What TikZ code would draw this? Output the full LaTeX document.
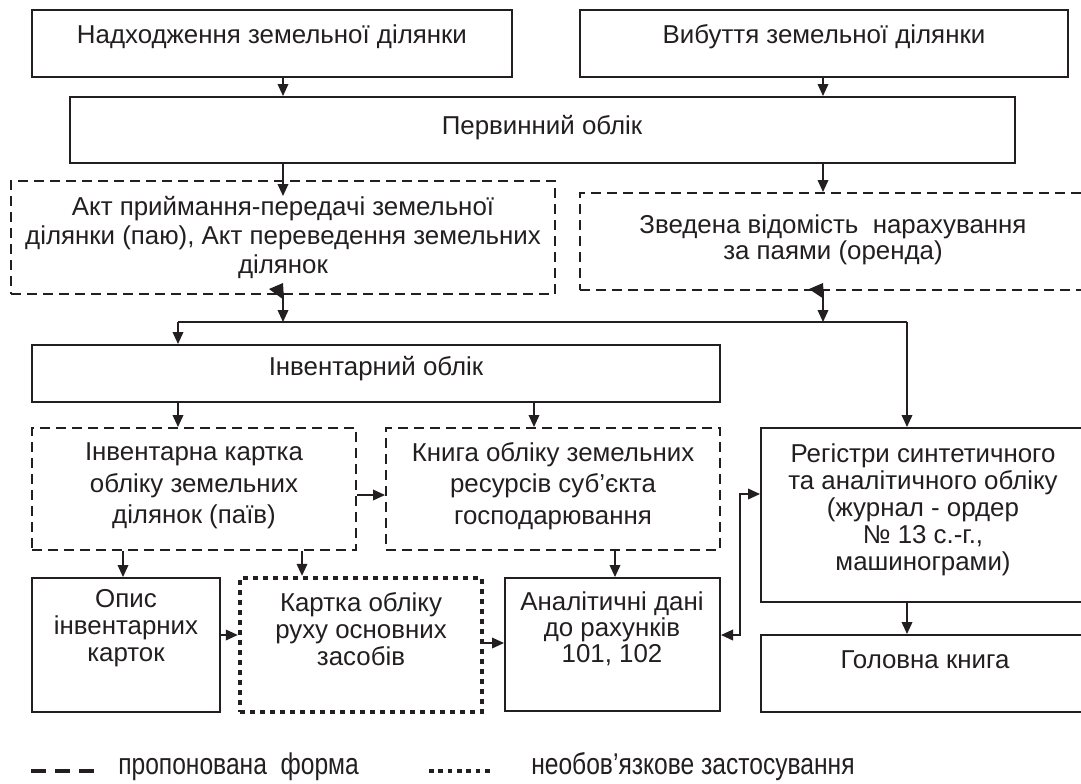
\documentclass[tikz,border=0pt]{standalone}
\usepackage{fontspec}
\setmainfont{Liberation Sans}
\newfontfamily\narrowfont{Liberation Sans}[FakeStretch=0.82]
\usetikzlibrary{arrows.meta,fit,calc}
\definecolor{ink}{HTML}{231F20}
\begin{document}
\begin{tikzpicture}[x=0.75pt,y=-0.75pt,
  solidbox/.style={draw=ink, line width=1.5pt, inner sep=0pt},
  dashbox/.style={draw=ink, line width=1.5pt, dash pattern=on 7.5pt off 4.5pt, inner sep=0pt},
  dotbox/.style={draw=ink, line width=3.3pt, dash pattern=on 3.5pt off 4pt, inner sep=0pt},
  txt/.style={text=ink, align=center, inner sep=0pt, font=\fontsize{19.4}{#1}\selectfont},
  legtxt/.style={text=ink, inner sep=0pt, font=\narrowfont\fontsize{22.5}{26}\selectfont},
  conn/.style={draw=ink, line width=1.1pt},
  arr/.style={conn, -{Triangle[length=9pt,width=8pt]}},
  dbl/.style={conn, {Triangle[length=9pt,width=8pt]}-{Triangle[length=9pt,width=8pt]}}]
\clip (0,0) rectangle (1081,783);
\fill[white] (0,0) rectangle (1081,783);
% boxes
\node[solidbox, fit={(32,10)(512,77)}] (nadh) {};
\node[txt=22pt] (nadhT) at (272,37) {Надходження земельної ділянки};
\node[solidbox, fit={(580,10)(1068,77)}] (vyb) {};
\node[txt=22pt] (vybT) at (824,37) {Вибуття земельної ділянки};
\node[solidbox, fit={(70,97)(1015,163)}] (perv) {};
\node[txt=22pt] (pervT) at (542,128) {Первинний облік};
\node[dashbox, fit={(11,181)(555,294)}] (akt) {};
\node[txt=21.75pt] (aktT) at (283,237) {Акт приймання-передачі земельної\\ділянки (паю), Акт переведення земельних\\ділянок};
\node[dashbox, fit={(580,193)(1086,290)}] (zved) {};
\node[txt=19.5pt] (zvedT) at (833,240) {Зведена відомість\ \ нарахування\\за паями (оренда)};
\node[solidbox, fit={(32,345)(720,402)}] (inv) {};
\node[txt=22pt] (invT) at (376,369) {Інвентарний облік};
\node[dashbox, fit={(32,428)(356,550)}] (invk) {};
\node[txt=23.6pt] (invkT) at (194,486) {Інвентарна картка\\обліку земельних\\ділянок (паїв)};
\node[dashbox, fit={(386,428)(720,550)}] (knyha) {};
\node[txt=23.6pt] (knyhaT) at (553,486) {Книга обліку земельних\\ресурсів суб’єкта\\господарювання};
\node[solidbox, fit={(761,428)(1086,602)}] (reg) {};
\node[txt=20.25pt] (regT) at (923,510) {Регістри синтетичного\\та аналітичного обліку\\(журнал - ордер\\№ 13 с.-г.,\\машинограми)};
\node[solidbox, fit={(32,578)(220,712)}] (opys) {};
\node[txt=20pt] (opysT) at (126,628) {Опис\\інвентарних\\карток};
\node[dotbox, fit={(240,578)(482,712)}] (kart) {};
\node[txt=20pt] (kartT) at (361,629) {Картка обліку\\руху основних\\засобів};
\node[solidbox, fit={(505,578)(720,711)}] (anal) {};
\node[txt=19.5pt] (analT) at (612,629) {Аналітичні дані\\до рахунків\\101, 102};
\node[solidbox, fit={(761,635)(1086,712)}] (gol) {};
\node[txt=22pt] (golT) at (925,660) {Головна книга};
% helper coordinates
\coordinate (cA) at (283,0);
\coordinate (cB) at (823,0);
\coordinate (busL) at (178,322);
\coordinate (busR) at (907,322);
\coordinate (cC) at (534,0);
\coordinate (cD) at (123,0);
\coordinate (cE) at (302,0);
\coordinate (cF) at (615,0);
\coordinate (rA) at (0,495);
\coordinate (rC) at (0,643);
\coordinate (kL) at (740,635);
\coordinate (kU) at (740,494);
% connectors
\draw[arr] (nadh.south -| cA) -- (perv.north -| cA);
\draw[arr] (vyb.south -| cB) -- (perv.north -| cB);
\draw[arr] (perv.south -| cA) -- ([yshift=-12pt]akt.north -| cA);
\draw[arr] (perv.south -| cB) -- (zved.north -| cB);
\draw[arr] (akt.south -| cA) -- (busL -| cA);
\draw[arr] (zved.south -| cB) -- (busL -| cB);
\fill[ink] ($(akt.south -| cA)+(-14,-6)$) -- ($(akt.south -| cA)+(0,-12)$) -- ($(akt.south -| cA)+(1,5)$) -- cycle;
\fill[ink] ($(zved.south -| cB)+(-14,-2)$) -- ($(zved.south -| cB)+(0,-8)$) -- ($(zved.south -| cB)+(1,8)$) -- cycle;
\draw[conn] (busL) -- (busR);
\draw[arr] (busL) -- (inv.north -| busL);
\draw[arr] (busR) -- (reg.north -| busR);
\draw[arr] (inv.south -| busL) -- (invk.north -| busL);
\draw[arr] (inv.south -| cC) -- (knyha.north -| cC);
\draw[arr] (invk.east |- rA) -- (knyha.west |- rA);
\draw[arr] (invk.south -| cD) -- (opys.north -| cD);
\draw[arr] (invk.south -| cE) -- (kart.north -| cE);
\draw[arr] (opys.east |- kL) -- (kart.west |- kL);
\draw[arr] (knyha.south -| cF) -- (anal.north -| cF);
\draw[arr] (kart.east |- rC) -- (anal.west |- rC);
\draw[dbl] (anal.east |- kL) -- (kL) -- (kU) -- (reg.west |- kU);
\draw[arr] (reg.south -| busR) -- (gol.north -| busR);
% legend
\coordinate (lgA1) at (31,771);
\coordinate (lgA2) at (95,771);
\coordinate (lgB1) at (429,771);
\coordinate (lgB2) at (493,771);
\draw[ink, line width=3pt, dash pattern=on 11.5pt off 6.5pt] (lgA1) -- (lgA2);
\draw[ink, line width=3.5pt, dash pattern=on 3.5pt off 3.5pt] (lgB1) -- (lgB2);
\node[legtxt, anchor=base west] (leg1) at (118,774) {пропонована\ \ форма};
\node[legtxt, anchor=base west] (leg2) at (531,774) {необов’язкове застосування};
\end{tikzpicture}
\end{document}
